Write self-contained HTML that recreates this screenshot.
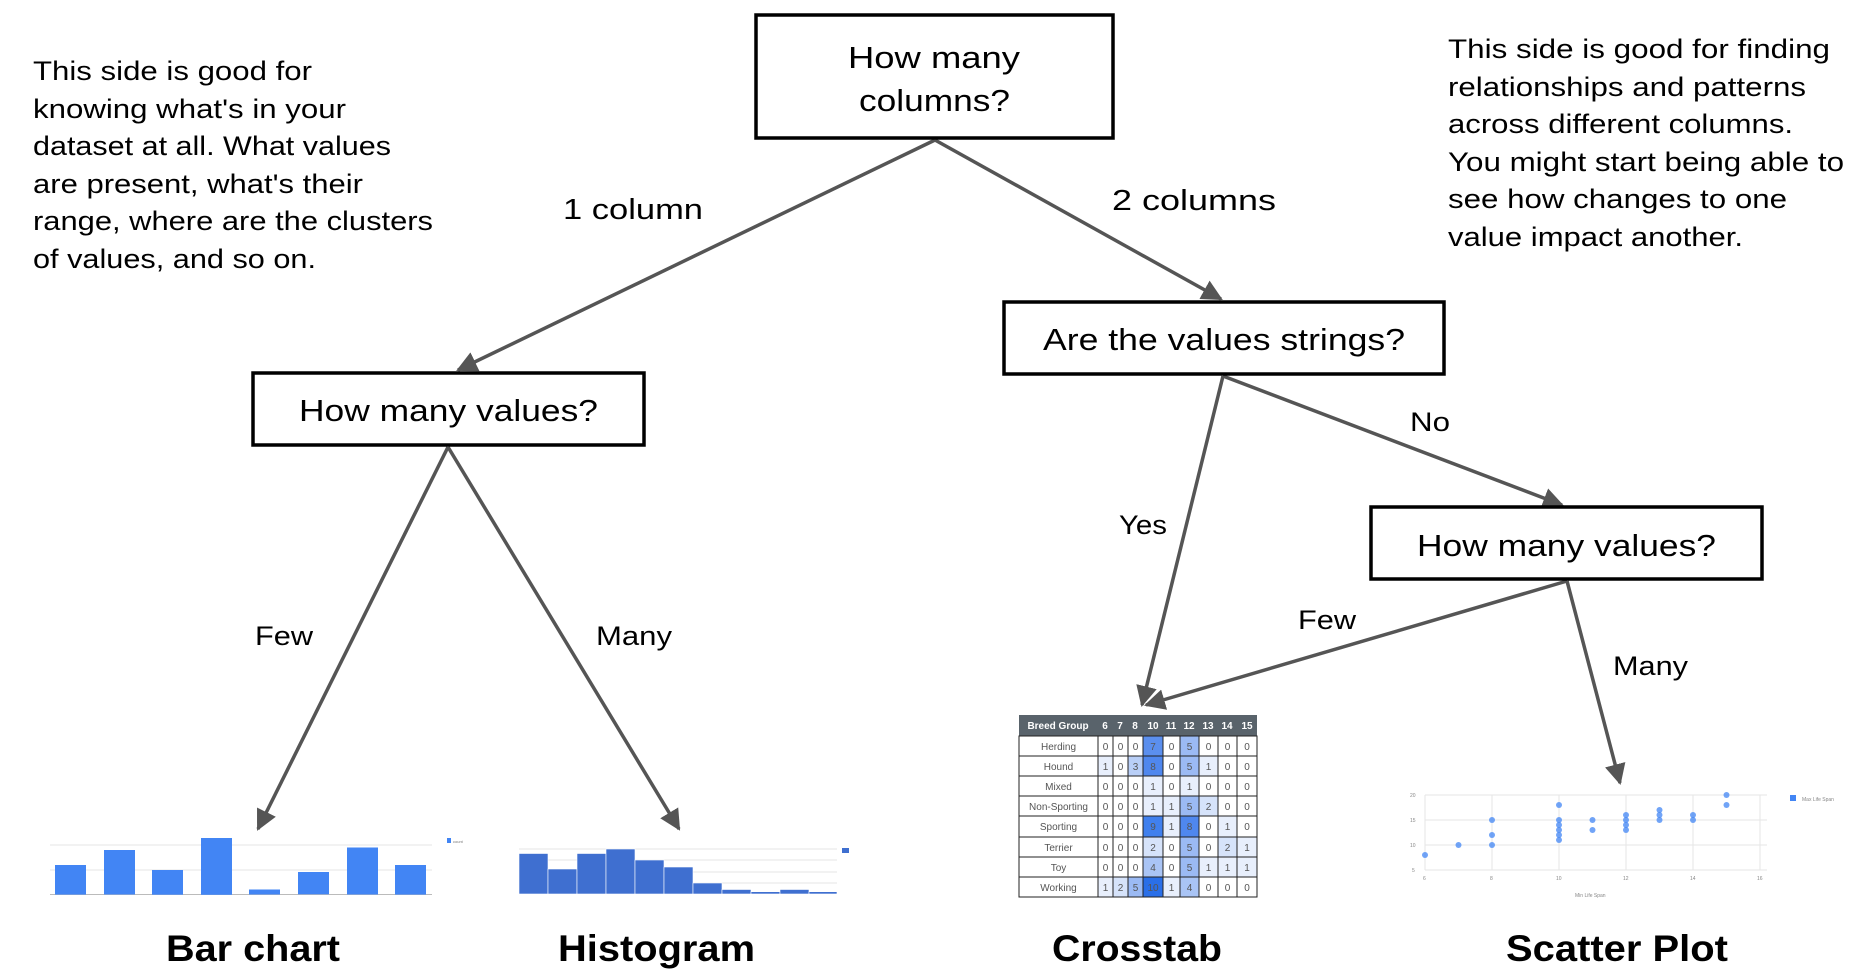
<!DOCTYPE html>
<html><head><meta charset="utf-8"><style>
html,body{margin:0;padding:0;background:#fff;}
svg{display:block;font-family:"Liberation Sans",sans-serif;}
</style></head><body>
<svg width="1858" height="970" viewBox="0 0 1858 970" xmlns="http://www.w3.org/2000/svg">
<defs>
<marker id="ah" markerWidth="10" markerHeight="10" refX="8" refY="5" orient="auto" markerUnits="userSpaceOnUse" viewBox="0 0 10 10">
</marker>
<marker id="a" viewBox="0 0 10 10" refX="9" refY="5" markerWidth="6" markerHeight="6" orient="auto"><path d="M0,0 L10,5 L0,10 z" fill="#555"/></marker>
</defs>
<!-- connectors -->
<g stroke="#555" stroke-width="3.5" fill="none" marker-end="url(#a)">
<line x1="935" y1="140" x2="458" y2="370"/>
<line x1="935" y1="140" x2="1221" y2="299"/>
<line x1="448" y1="447" x2="258" y2="829"/>
<line x1="448" y1="447" x2="679" y2="829"/>
<line x1="1223" y1="376" x2="1142" y2="705"/>
<line x1="1223" y1="376" x2="1562" y2="505"/>
<line x1="1567" y1="581" x2="1146" y2="705"/>
<line x1="1567" y1="581" x2="1620" y2="783"/>
</g>
<!-- boxes -->
<g fill="#fff" stroke="#000" stroke-width="3.5">
<rect x="756" y="15" width="357" height="123"/>
<rect x="1004" y="302" width="440" height="72"/>
<rect x="253" y="373" width="391" height="72"/>
<rect x="1371" y="507" width="391" height="72"/>
</g>
<g font-size="31" fill="#000">
<text x="848" y="68" textLength="172" lengthAdjust="spacingAndGlyphs">How many</text>
<text x="859" y="111" textLength="151" lengthAdjust="spacingAndGlyphs">columns?</text>
<text x="1043" y="350" textLength="362" lengthAdjust="spacingAndGlyphs">Are the values strings?</text>
<text x="299" y="421" textLength="299" lengthAdjust="spacingAndGlyphs">How many values?</text>
<text x="1417" y="556" textLength="299" lengthAdjust="spacingAndGlyphs">How many values?</text>
</g>
<g font-size="29" fill="#000">
<text x="563" y="219" textLength="140" lengthAdjust="spacingAndGlyphs">1 column</text>
<text x="1112" y="210" textLength="164" lengthAdjust="spacingAndGlyphs">2 columns</text>
</g>
<g font-size="27" fill="#000">
<text x="255" y="645" textLength="58" lengthAdjust="spacingAndGlyphs">Few</text>
<text x="596" y="645" textLength="76" lengthAdjust="spacingAndGlyphs">Many</text>
<text x="1119" y="534" textLength="48" lengthAdjust="spacingAndGlyphs">Yes</text>
<text x="1410" y="431" textLength="40" lengthAdjust="spacingAndGlyphs">No</text>
<text x="1298" y="629" textLength="58" lengthAdjust="spacingAndGlyphs">Few</text>
<text x="1613" y="675" textLength="75" lengthAdjust="spacingAndGlyphs">Many</text>
</g>
<!-- side texts -->
<g font-size="27" fill="#000">
<text x="33" y="80" textLength="279" lengthAdjust="spacingAndGlyphs">This side is good for</text>
<text x="33" y="118" textLength="313" lengthAdjust="spacingAndGlyphs">knowing what's in your</text>
<text x="33" y="155" textLength="358" lengthAdjust="spacingAndGlyphs">dataset at all. What values</text>
<text x="33" y="193" textLength="330" lengthAdjust="spacingAndGlyphs">are present, what's their</text>
<text x="33" y="230" textLength="400" lengthAdjust="spacingAndGlyphs">range, where are the clusters</text>
<text x="33" y="268" textLength="283" lengthAdjust="spacingAndGlyphs">of values, and so on.</text>
<text x="1448" y="58" textLength="382" lengthAdjust="spacingAndGlyphs">This side is good for finding</text>
<text x="1448" y="96" textLength="358" lengthAdjust="spacingAndGlyphs">relationships and patterns</text>
<text x="1448" y="133" textLength="345" lengthAdjust="spacingAndGlyphs">across different columns.</text>
<text x="1448" y="171" textLength="396" lengthAdjust="spacingAndGlyphs">You might start being able to</text>
<text x="1448" y="208" textLength="339" lengthAdjust="spacingAndGlyphs">see how changes to one</text>
<text x="1448" y="246" textLength="295" lengthAdjust="spacingAndGlyphs">value impact another.</text>
</g>
<!-- titles -->
<g font-size="37" font-weight="bold" fill="#000">
<text x="166" y="961" textLength="174" lengthAdjust="spacingAndGlyphs">Bar chart</text>
<text x="558" y="961" textLength="197" lengthAdjust="spacingAndGlyphs">Histogram</text>
<text x="1052" y="961" textLength="170" lengthAdjust="spacingAndGlyphs">Crosstab</text>
<text x="1506" y="961" textLength="222" lengthAdjust="spacingAndGlyphs">Scatter Plot</text>
</g>
<!-- bar chart -->
<g stroke="#e6e6e6" stroke-width="1">
<line x1="50" y1="845" x2="432" y2="845"/><line x1="50" y1="870" x2="432" y2="870"/>
</g>
<line x1="50" y1="894.5" x2="432" y2="894.5" stroke="#bbb"/>
<g fill="#4285f4">
<rect x="55" y="865" width="31" height="29.6"/>
<rect x="104" y="850" width="31" height="44.5"/>
<rect x="152" y="870" width="31" height="24.7"/>
<rect x="201" y="838" width="31" height="56.8"/>
<rect x="249" y="889.5" width="31" height="5"/>
<rect x="298" y="872" width="31" height="22.3"/>
<rect x="347" y="847.5" width="31" height="47"/>
<rect x="395" y="865" width="31" height="29.6"/>
<rect x="447" y="838" width="4" height="5"/>
</g>
<text x="453" y="843" font-size="4" fill="#777">count</text>
<!-- histogram -->
<g stroke="#e6e6e6"><line x1="519" y1="849" x2="837" y2="849"/><line x1="519" y1="860" x2="837" y2="860"/><line x1="519" y1="872" x2="837" y2="872"/><line x1="519" y1="883" x2="837" y2="883"/></g>
<g fill="#3f6fd0" stroke="#fff" stroke-width="0.6">
<rect x="519" y="853.5" width="29" height="40.5"/>
<rect x="548" y="869" width="29" height="25"/>
<rect x="577" y="853.5" width="29" height="40.5"/>
<rect x="606" y="849" width="29" height="45"/>
<rect x="635" y="860" width="29" height="34"/>
<rect x="664" y="867" width="29" height="27"/>
<rect x="693" y="883" width="29" height="11"/>
<rect x="722" y="889.5" width="29" height="4.5"/>
<rect x="751" y="891.7" width="29" height="2.3"/>
<rect x="780" y="889.5" width="29" height="4.5"/>
<rect x="809" y="891.7" width="28" height="2.3"/>
</g>
<rect x="842" y="848" width="7" height="5" fill="#3f6fd0"/>
<!-- crosstab -->
<g font-size="10" text-anchor="middle">
<rect x="1019" y="715" width="238" height="21" fill="#59636b"/>
<g fill="#fff" font-weight="bold">
<text x="1058" y="729">Breed Group</text><text x="1105" y="729">6</text><text x="1120" y="729">7</text><text x="1135" y="729">8</text><text x="1153" y="729">10</text><text x="1171" y="729">11</text><text x="1189" y="729">12</text><text x="1208" y="729">13</text><text x="1227" y="729">14</text><text x="1247" y="729">15</text>
</g>
</g>
<g id="tbl"></g>
<!-- scatter -->
<g stroke="#e6e6e6">
<line x1="1425" y1="795" x2="1767" y2="795"/><line x1="1425" y1="820" x2="1767" y2="820"/><line x1="1425" y1="845" x2="1767" y2="845"/><line x1="1425" y1="870" x2="1767" y2="870"/>
<line x1="1425" y1="795" x2="1425" y2="870"/><line x1="1492" y1="795" x2="1492" y2="870"/><line x1="1559" y1="795" x2="1559" y2="870"/><line x1="1626" y1="795" x2="1626" y2="870"/><line x1="1693" y1="795" x2="1693" y2="870"/><line x1="1760" y1="795" x2="1760" y2="870"/>
</g>
<g font-size="5" fill="#888">
<text x="1410" y="797">20</text><text x="1410" y="822">15</text><text x="1410" y="847">10</text><text x="1412" y="872">5</text>
<text x="1423" y="880">6</text><text x="1490" y="880">8</text><text x="1556" y="880">10</text><text x="1623" y="880">12</text><text x="1690" y="880">14</text><text x="1757" y="880">16</text>
<text x="1575" y="897">Min Life Span</text><text x="1802" y="801">Max Life Span</text>
</g>
<rect x="1790" y="795" width="6" height="6" fill="#4285f4"/>
<g fill="#4285f4" fill-opacity="0.75" id="sc"></g>
<script>
(function(){
var ns="http://www.w3.org/2000/svg";
var data=[["Herding",0,0,0,7,0,5,0,0,0],["Hound",1,0,3,8,0,5,1,0,0],["Mixed",0,0,0,1,0,1,0,0,0],["Non-Sporting",0,0,0,1,1,5,2,0,0],["Sporting",0,0,0,9,1,8,0,1,0],["Terrier",0,0,0,2,0,5,0,2,1],["Toy",0,0,0,4,0,5,1,1,1],["Working",1,2,5,10,1,4,0,0,0]];
var xs=[1019,1098,1113,1128,1143,1163,1180,1199,1218,1237,1257];
var ys=[736,756,776,796,816,837,857,877,897];
var col={0:"#fff",1:"#e8effc",2:"#d6e3fa",3:"#b9cff7",4:"#a9c4f5",5:"#9bbaf4",7:"#5b8fee",8:"#4f87ee",9:"#4080ee",10:"#2a6fe8"};
var g=document.getElementById("tbl");
function el(n,a){var e=document.createElementNS(ns,n);for(var k in a)e.setAttribute(k,a[k]);g.appendChild(e);return e;}
for(var r=0;r<8;r++){for(var c=0;c<10;c++){
var fill=c==0?"#fff":col[data[r][c]];
el("rect",{x:xs[c],y:ys[r],width:xs[c+1]-xs[c],height:ys[r+1]-ys[r],fill:fill,stroke:"#222","stroke-width":"1"});
var t=el("text",{x:(xs[c]+xs[c+1])/2,y:ys[r]+14,"font-size":"10","text-anchor":"middle",fill:"#555"});
t.textContent=data[r][c];}}
var pts=[[6,8],[7,10],[8,10],[8,12],[8,15],[10,11],[10,12],[10,13],[10,14],[10,15],[10,18],[11,13],[11,15],[12,13],[12,14],[12,15],[12,16],[13,15],[13,16],[13,17],[14,15],[14,16],[15,18],[15,20]];
var s=document.getElementById("sc");
pts.forEach(function(p){var e=document.createElementNS(ns,"circle");e.setAttribute("cx",1425+(p[0]-6)*33.5);e.setAttribute("cy",870-(p[1]-5)*5);e.setAttribute("r","3");s.appendChild(e);});
})();
</script>
</svg>
</body></html>
